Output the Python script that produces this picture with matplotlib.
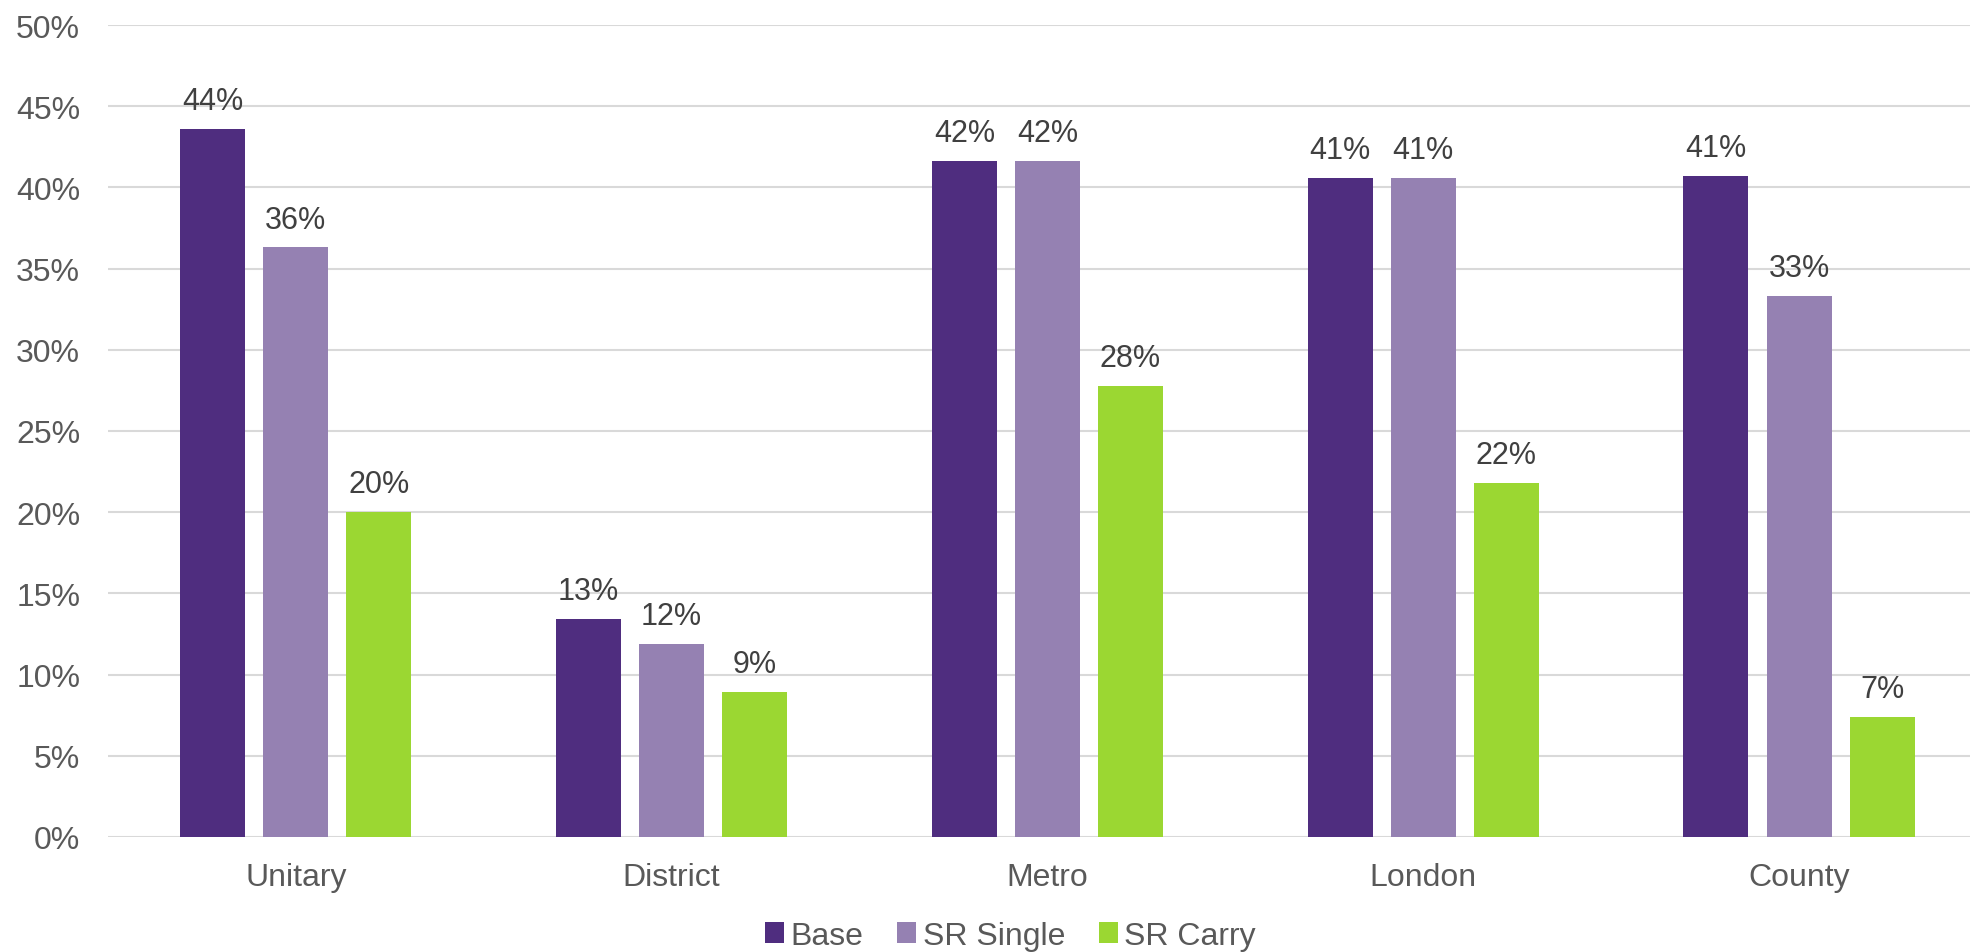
import matplotlib
matplotlib.use("Agg")
import numpy as np
import matplotlib.pyplot as plt
from matplotlib.ticker import FuncFormatter

plt.rcParams['font.family'] = ['Liberation Sans', 'DejaVu Sans']

categories = ['Unitary', 'District', 'Metro', 'London', 'County']
series = ['Base', 'SR Single', 'SR Carry']
base = [43.6, 13.4, 41.6, 40.6, 40.7]
sr_single = [36.3, 11.9, 41.6, 40.6, 33.3]
sr_carry = [20.0, 8.9, 27.8, 21.8, 7.4]
colors = ['#4F2D7F', '#9581B2', '#9BD732']

fig = plt.figure(figsize=(19.7, 9.53), dpi=100)
ax = fig.add_axes([0.0548, 0.1207, 0.9452, 0.852])

x = np.arange(len(categories))
w = 0.173
step = 0.221
for i, (name, vals) in enumerate(zip(series, [base, sr_single, sr_carry])):
    pos = x + (i - 1) * step
    bars = ax.bar(pos, vals, width=w, color=colors[i], label=name, zorder=3)
    for b, v in zip(bars, vals):
        ax.text(b.get_x() + b.get_width() / 2, v + 0.8, f'{round(v):.0f}%',
                ha='center', va='bottom', fontsize=22, color='#404040')

ax.set_ylim(0, 50)
ax.set_yticks(range(0, 51, 5))
ax.yaxis.set_major_formatter(FuncFormatter(lambda v, p: f'{v:.0f}%'))
ax.set_xlim(-0.5, 4.455)
ax.set_xticks(x)
ax.set_xticklabels(categories)
ax.grid(axis='y', color='#D9D9D9', linewidth=1.5, zorder=0)
for s in ax.spines.values():
    s.set_visible(False)
ax.tick_params(axis='both', length=0, labelsize=23, colors='#595959')
ax.tick_params(axis='y', pad=20)
ax.tick_params(axis='x', pad=18)

fig.legend(loc='center', bbox_to_anchor=(0.513, 0.017), ncol=3, frameon=False,
           fontsize=23, labelcolor='#595959', handlelength=0.6, handleheight=0.6,
           handletextpad=0.2, columnspacing=1.05)

fig.savefig('out.png', dpi=100)
